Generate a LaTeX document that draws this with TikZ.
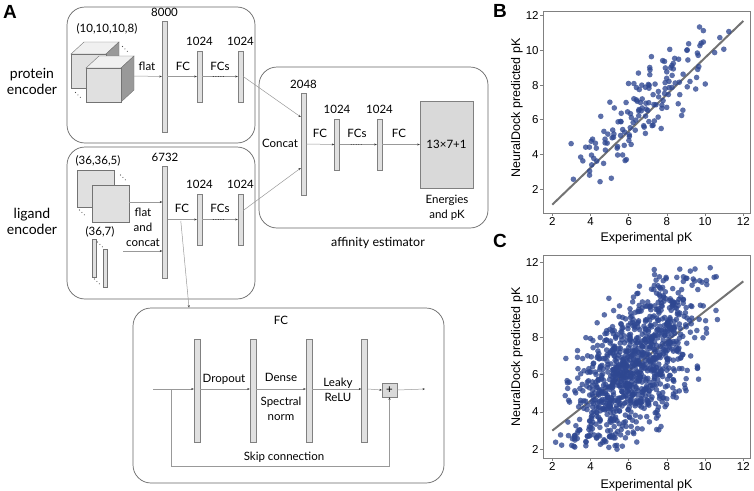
\documentclass[tikz,border=0pt]{standalone}
\usepackage{fontspec}
\setmainfont{Lato}
\newfontfamily\plotfont{Liberation Sans}
\usepackage{tikz}
\usetikzlibrary{arrows.meta,positioning,calc}
\definecolor{dotblue}{rgb}{0.18,0.28,0.57}
\definecolor{boxgray}{rgb}{0.4,0.4,0.4}

\tikzset{
  panel/.style={draw=boxgray, rounded corners=18pt, line width=0.7pt},
  bar/.style={draw=black!50, fill=black!12, inner sep=0pt, minimum width=5pt},
  conn/.style={draw=black!40, line width=0.5pt, -{Stealth[length=2.5pt,width=2pt,black!80]}},
  dotseg/.style={black!75, line width=0.9pt, dash pattern=on 0.9pt off 1.6pt},
  lbl/.style={font=\fontsize{11.5}{15}\selectfont, inner sep=0pt, align=center},
  title/.style={font=\fontsize{14}{16}\selectfont, inner sep=0pt, align=center},
  caption/.style={font=\fontsize{12.5}{14}\selectfont, inner sep=0pt},
  letter/.style={font=\plotfont\bfseries\fontsize{19}{19}\selectfont, inner sep=0pt},
  ticklbl/.style={font=\plotfont\fontsize{11.5}{12}\selectfont, inner sep=0pt},
  axlabel/.style={font=\plotfont\fontsize{12.5}{13}\selectfont, inner sep=0pt},
  plotframe/.style={draw=black!50, line width=0.8pt},
  fitline/.style={draw=black!55, line width=2pt},
  ptdot/.style={fill=dotblue, fill opacity=0.78},
}

\newcommand\diagdots[2]{\foreach \k in {0,1,2} \fill[black!70] (#1+2.4*\k,#2+2.4*\k) circle (0.55pt);}

\begin{document}
\begin{tikzpicture}[x=1pt,y=-1pt]
  \useasboundingbox (0,0) rectangle (754,490);

  % A: network
  \node[letter] (lA) at (10,11.5) {A};

  % protein encoder
  \node[panel, minimum width=188pt, minimum height=136pt] (pbox) at (161,75) {};
  \node[title] (ptxt) at (32,81) {protein\\encoder};
  \foreach \cx/\cy in {71/54, 86/68} {
    \filldraw[draw=black!55, fill=black!6] (\cx,\cy) -- ++(13,-12) -- ++(35,0) -- ++(-13,12) -- cycle;
    \filldraw[draw=black!55, fill=black!40] (\cx+35,\cy) -- ++(13,-12) -- ++(0,34) -- ++(-13,12) -- cycle;
    \filldraw[draw=black!55, fill=black!12] (\cx,\cy) rectangle ++(35,34);
  }
  \diagdots{122.5}{46.5}
  \diagdots{75.5}{92.5}
  \node[lbl] (pshape) at (107,29) {(10,10,10,8)};
  \coordinate (cubeout) at (134,76);
  \node[bar, minimum height=111pt] (b8000) at (164.5,76.5) {};
  \node[lbl, above=4pt of b8000] (t8000) {8000};
  \node[bar, minimum height=51pt] (p1) at (199.5,76.5) {};
  \node[bar, minimum height=51pt] (p3) at (240.5,76.5) {};
  \node[lbl, above=5pt of p1] (tp1) {1024};
  \node[lbl, above=5pt of p3] (tp3) {1024};
  \draw[conn] (cubeout) -- (b8000.west);
  \draw[conn] (b8000.east) -- (p1.west);
  \draw[conn] (p1.east) -- (p3.west);
  \draw[dotseg] ($(p1.east)!0.3!(p3.west)$) -- ($(p1.east)!0.62!(p3.west)$);
  \node[lbl] (pflat) at (147,66) {flat};
  \node[lbl] (pfc) at (183,66) {FC};
  \node[lbl] (pfcs) at (220,66) {FCs};

  % ligand encoder
  \node[panel, minimum width=188pt, minimum height=152pt] (lbox) at (161,223) {};
  \node[title] (ltxt) at (32,221) {ligand\\encoder};
  \foreach \sx/\sy in {77/170, 92/185}
    \filldraw[draw=black!55, fill=black!12] (\sx,\sy) rectangle ++(37,37);
  \foreach \tx/\ty in {92/239, 103/249}
    \filldraw[draw=black!55, fill=black!12] (\tx,\ty) rectangle ++(4,38);
  \diagdots{120.5}{175}
  \diagdots{79.5}{210}
  \diagdots{97.5}{242}
  \diagdots{94.5}{279}
  \node[lbl] (lshape) at (98,161) {(36,36,5)};
  \node[lbl] (lshape2) at (100,232) {(36,7)};
  \node[bar, minimum height=112pt] (b6732) at (165,222) {};
  \node[lbl, above=4pt of b6732] (t6732) {6732};
  \node[bar, minimum height=51pt] (l1) at (199.5,219.5) {};
  \node[bar, minimum height=51pt] (l3) at (240.5,219.5) {};
  \node[lbl, above=5pt of l1] (tl1) {1024};
  \node[lbl, above=5pt of l3] (tl3) {1024};
  \coordinate (sqout) at (129,202);
  \coordinate (thinout) at (123,251);
  \draw[conn] (sqout) -- (sqout -| b6732.west);
  \draw[conn] (thinout) -- (thinout -| b6732.west);
  \draw[conn] (l1.west -| b6732.east) -- (l1.west);
  \draw[conn] (l1.east) -- (l3.west);
  \draw[dotseg] ($(l1.east)!0.3!(l3.west)$) -- ($(l1.east)!0.62!(l3.west)$);
  \node[lbl] (lflat) at (143,227) {flat\\and\\concat};
  \node[lbl] (lfc) at (182,208) {FC};
  \node[lbl] (lfcs) at (220,208) {FCs};

  % affinity estimator
  \node[panel, minimum width=229pt, minimum height=161pt] (abox) at (373.5,147.5) {};
  \node[bar, minimum height=102pt] (concat) at (303.5,144) {};
  \node[lbl, above=4pt of concat] (t2048) {2048};
  \node[lbl] (tconcat) at (280,143) {Concat};
  \node[bar, minimum height=51pt] (a1) at (337,144.5) {};
  \node[bar, minimum height=51pt] (a3) at (379.5,144.5) {};
  \node[lbl, above=5pt of a1] (ta1) {1024};
  \node[lbl, above=5pt of a3] (ta3) {1024};
  \node[lbl, draw=black!50, fill=black!15, minimum width=53pt, minimum height=87pt] (outbox) at (446.5,144.5) {13×7+1};
  \node[lbl] (tenergy) at (447,207.5) {Energies\\and pK};
  \draw[conn] (p3.east) -- ([yshift=27pt]concat.west);
  \draw[conn] ([yshift=9pt]l3.east) -- ([yshift=-24pt]concat.west);
  \draw[conn] (concat.east) -- (a1.west);
  \draw[conn] (a1.east) -- (a3.west);
  \draw[dotseg] ($(a1.east)!0.3!(a3.west)$) -- ($(a1.east)!0.62!(a3.west)$);
  \draw[conn] (a3.east) -- (outbox.west);
  \node[lbl] (afc) at (320,133) {FC};
  \node[lbl] (afcs) at (357,133) {FCs};
  \node[lbl] (afc2) at (399,133) {FC};
  \node[caption] (tafin) at (378,243) {affinity estimator};

  % FC block
  \node[panel, minimum width=311pt, minimum height=175pt] (fcbox) at (288.5,395.5) {};
  \coordinate (fcsrc) at ($(b6732.east)!0.45!(l1.west)$);
  \draw[conn] (fcsrc) -- ([xshift=-99.5pt]fcbox.north);
  \node[lbl] (tfc) at (281,320) {FC};
  \foreach \i/\fx in {1/197, 2/253, 3/309, 4/364.5}
    \node[bar, minimum width=6pt, minimum height=103pt] (f\i) at (\fx,390.5) {};
  \node[lbl, draw=black!50, fill=black!15, minimum width=15pt, minimum height=14pt] (plus) at (389.5,390) {+};
  \coordinate (fcin) at (153,389);
  \coordinate (fcout) at (425,389);
  \coordinate (skip) at (171,389);
  \draw[conn] (fcin) -- (fcin -| f1.west);
  \foreach \a/\b in {f1/f2, f2/f3, f3/f4}
    \draw[conn] (fcin -| \a.east) -- (fcin -| \b.west);
  \draw[conn] (fcin -| f4.east) -- (plus.west);
  \draw[conn] (plus.east) -- (fcout);
  \draw[conn] (skip) -- ++(0,77) -| (plus.south);
  \node[lbl] (tdrop) at (224,379) {Dropout};
  \node[lbl] (tdense) at (281,377) {Dense};
  \node[lbl] (tspec) at (281,408.5) {Spectral\\norm};
  \node[lbl] (tleaky) at (338,390) {Leaky\\ReLU};
  \node[lbl] (tskip) at (284,457) {Skip connection};

  % B: test set
  \node[letter] (lB) at (500,11) {B};
  \begin{scope}[shift={(514.1,223.7)}, x=19.1pt, y=17.33pt]
    \draw[fitline] (2,1.1) -- (12,11.7);
    \pgfmathsetseed{11}
    \foreach \i in {1,...,155} {
      \pgfmathsetmacro\px{max(2.9+0.3*abs(rand),min(11.9-0.3*abs(rand),6.9+1.75*(rand+rand+rand)))}
      \pgfmathsetmacro\py{max(2.1+0.5*abs(rand),min(11.5-0.4*abs(rand),0.97*\px+0.2+1.05*(rand+rand+rand)))}
      \fill[ptdot] (\px,\py) circle[radius=2.8pt];
    }
    \draw[plotframe] (1.513,0.617) rectangle (12.35,12.27);
    \foreach \t in {2,4,...,12} {
      \draw[plotframe] (\t,0.617) -- ++(0pt,-3pt) node[ticklbl, anchor=north, yshift=-1pt] (bx\t) {\t};
      \draw[plotframe] (1.513,\t) -- ++(-3pt,0pt) node[ticklbl, anchor=east, xshift=-1pt] (by\t) {\t};
    }
  \end{scope}
  \node[axlabel] (bxl) at (646.5,238) {Experimental pK};
  \node[axlabel, rotate=90] (byl) at (517,108) {NeuralDock predicted pK};

  % C: all complexes
  \node[letter] (lC) at (500,240.5) {C};
  \begin{scope}[shift={(514.1,486.6)}, x=19.1pt, y=18.66pt]
    \draw[fitline] (2,3.0) -- (12,11.0);
    \pgfmathsetseed{23}
    \foreach \i in {1,...,1000} {
      \pgfmathsetmacro\px{max(2.0+0.6*abs(rand),min(11.5-0.6*abs(rand),6.3+1.55*(rand+rand+rand)))}
      \pgfmathsetmacro\py{max(2.0+0.8*abs(rand),min(11.8-0.8*abs(rand),0.8*\px+1.4+1.7*(rand+rand+rand)))}
      \fill[ptdot] (\px,\py) circle[radius=2.8pt];
    }
    \draw[plotframe] (1.513,1.533) rectangle (12.35,12.41);
    \foreach \t in {2,4,...,12} {
      \draw[plotframe] (\t,1.533) -- ++(0pt,-3pt) node[ticklbl, anchor=north, yshift=-1pt] (cx\t) {\t};
      \draw[plotframe] (1.513,\t) -- ++(-3pt,0pt) node[ticklbl, anchor=east, xshift=-1pt] (cy\t) {\t};
    }
  \end{scope}
  \node[axlabel] (cxl) at (646.5,485) {Experimental pK};
  \node[axlabel, rotate=90] (cyl) at (517,357) {NeuralDock predicted pK};
\end{tikzpicture}
\end{document}
